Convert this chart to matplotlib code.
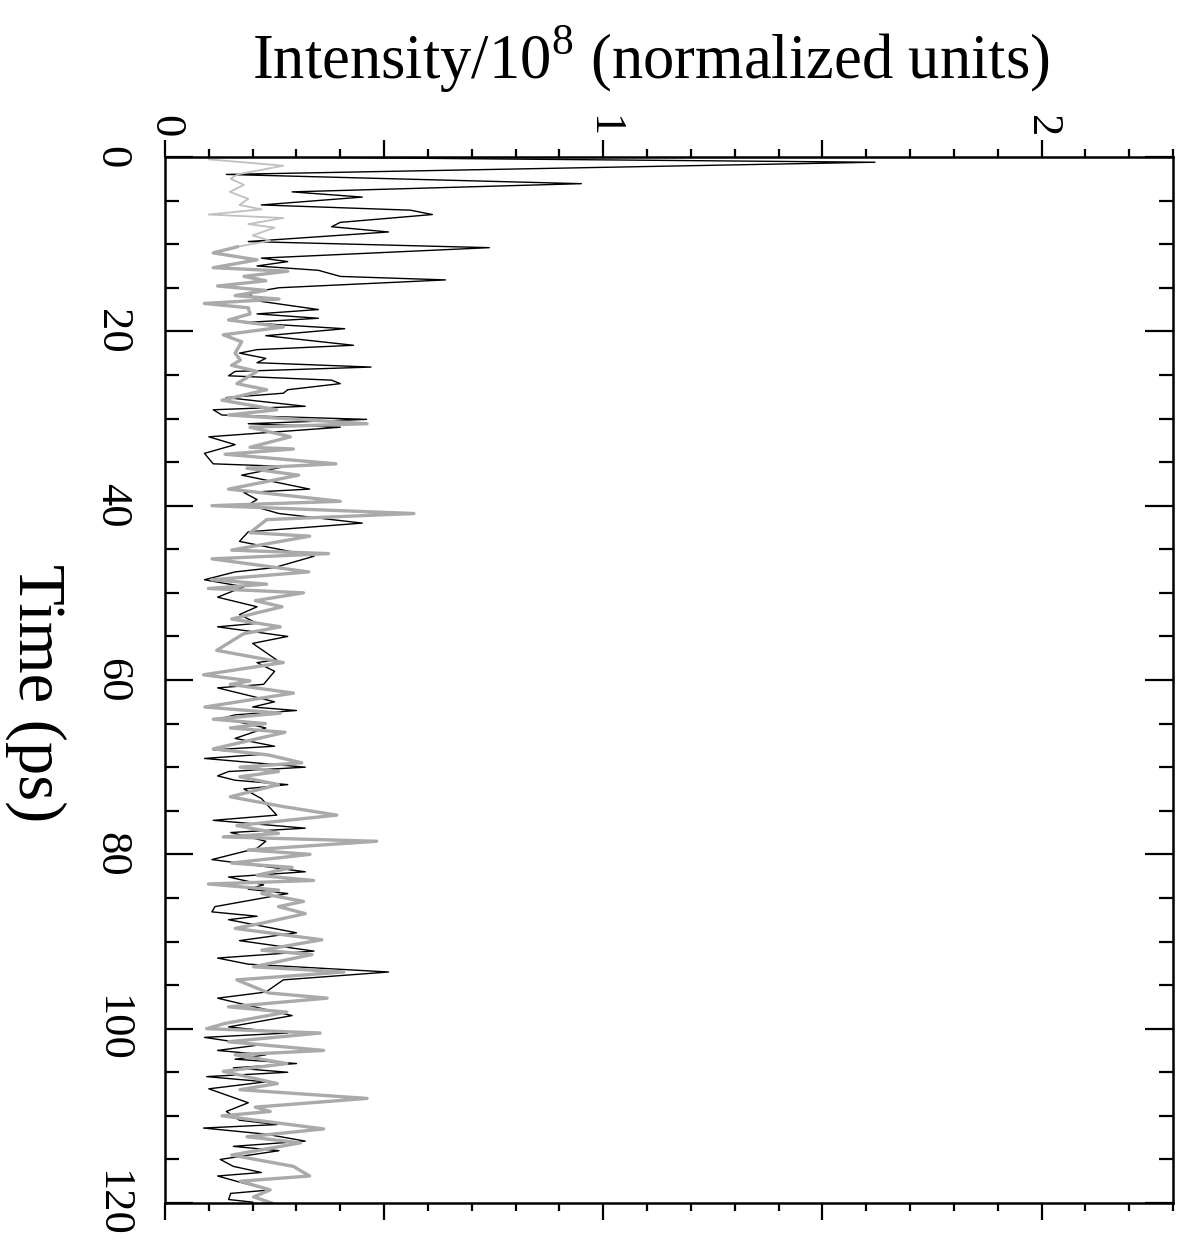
import matplotlib
matplotlib.use('Agg')
import matplotlib.pyplot as plt
from matplotlib.ticker import MultipleLocator, FuncFormatter

plt.rcParams['font.family'] = ['Liberation Serif', 'DejaVu Serif']
plt.rcParams['mathtext.fontset'] = 'custom'
plt.rcParams['mathtext.rm'] = 'Liberation Serif'

# black trace (time in ps, intensity / 1e8)
black_t = [0.0, 0.6, 2.0, 3.06, 4.0, 4.6, 5.5, 6.1, 6.6, 7.5, 8.0, 8.6, 9.7, 10.4, 11.6, 12.0,
           12.5, 13.0, 13.7, 14.1, 15.0, 15.6, 16.5, 17.5, 18.0, 18.5, 19.0, 19.7, 20.5, 21.6,
           22.1, 22.5, 23.1, 23.6, 24.1, 24.6, 25.1, 25.6, 26.0, 26.7, 27.1, 27.6, 28.6, 29.0,
           29.6, 30.1, 30.6, 31.0, 32.1, 33.0, 34.0, 35.2, 35.5, 36.5, 38.1, 38.5, 39.3, 39.9, 40.9,
           42.0, 43.0, 44.1, 45.8, 47.1, 47.6, 48.5, 49.3, 50.5, 51.6, 52.5, 53.5, 53.9, 55.0,
           55.8, 57.7, 58.0, 59.0, 60.5, 60.9, 62.5, 63.1, 63.5, 64.0, 64.4, 65.5, 66.7, 67.6,
           68.0, 68.5, 69.0, 70.0, 70.5, 71.0, 71.5, 72.0, 72.5, 73.6, 75.5, 76.1, 77.0, 77.5,
           78.5, 79.3, 80.6, 82.0, 82.6, 83.5, 84.0, 84.5, 86.0, 86.6, 87.1, 87.5, 89.0, 89.9,
           91.1, 91.9, 92.6, 93.5, 94.4, 95.8, 96.5, 97.1, 98.5, 99.8, 100.5, 101.0, 101.9,
           102.5, 103.0, 103.5, 104.0, 104.5, 105.0, 105.5, 106.1, 106.9, 108.5, 109.5, 110.5,
           111.0, 111.4, 112.1, 112.9, 113.5, 114.0, 115.0, 115.8, 116.5, 116.9, 117.6, 118.5,
           118.9, 119.6, 119.9]
black_i = [0.25, 1.62, 0.14, 0.95, 0.29, 0.45, 0.22, 0.56, 0.61, 0.40, 0.38, 0.51, 0.19, 0.74, 0.22, 0.28,
           0.21, 0.35, 0.40, 0.64, 0.26, 0.19, 0.21, 0.35, 0.21, 0.35, 0.18, 0.41, 0.23, 0.43,
           0.21, 0.17, 0.23, 0.21, 0.47, 0.16, 0.145, 0.38, 0.40, 0.28, 0.27, 0.14, 0.32, 0.11,
           0.13, 0.46, 0.19, 0.40, 0.10, 0.16, 0.09, 0.11, 0.275, 0.175, 0.33, 0.18, 0.21, 0.19, 0.26,
           0.45, 0.19, 0.17, 0.34, 0.25, 0.16, 0.09, 0.18, 0.12, 0.21, 0.17, 0.21, 0.12, 0.28,
           0.20, 0.255, 0.21, 0.25, 0.225, 0.12, 0.25, 0.20, 0.30, 0.16, 0.13, 0.23, 0.16, 0.25,
           0.11, 0.23, 0.09, 0.32, 0.145, 0.12, 0.16, 0.28, 0.18, 0.22, 0.255, 0.11, 0.32, 0.15,
           0.23, 0.21, 0.107, 0.32, 0.145, 0.225, 0.19, 0.28, 0.114, 0.107, 0.21, 0.145, 0.30, 0.17,
           0.34, 0.12, 0.19, 0.51, 0.27, 0.23, 0.12, 0.17, 0.29, 0.145, 0.28, 0.09, 0.21,
           0.12, 0.23, 0.16, 0.30, 0.156, 0.28, 0.095, 0.23, 0.10, 0.19, 0.14, 0.17,
           0.256, 0.088, 0.23, 0.32, 0.156, 0.26, 0.126, 0.156, 0.22, 0.12, 0.17, 0.24,
           0.15, 0.145, 0.20]

# grey trace, first ~10 ps drawn thin and light
grey_early_t = [0.27, 1.0, 2.0, 2.5, 3.2, 4.0, 4.8, 5.5, 6.0, 6.6, 7.0, 7.7, 8.1, 9.0, 9.6, 10.3]
grey_early_i = [0.10, 0.27, 0.165, 0.15, 0.18, 0.148, 0.19, 0.17, 0.22, 0.10, 0.27, 0.19, 0.25, 0.20, 0.24, 0.165]

grey_t = [10.3, 11.0, 11.8, 12.7, 13.1, 13.7, 14.2, 14.8, 15.3, 15.9, 16.3, 16.8, 17.3, 18.0, 18.7,
          19.5, 20.4, 21.2, 22.5, 23.3, 23.9, 24.6, 26.0, 26.7, 27.9, 29.0, 29.6, 30.6, 31.0,
          32.1, 33.3, 33.5, 34.1, 35.2, 35.7, 36.5, 38.1, 39.5, 40.0, 40.9, 41.6, 43.1, 43.5,
          45.1, 45.5, 46.1, 47.6, 48.5, 49.0, 49.5, 50.0, 50.9, 51.6, 53.0, 53.9, 54.7, 56.6,
          58.0, 59.4, 60.1, 60.5, 61.5, 63.1, 63.8, 64.5, 65.0, 65.5, 66.0, 67.9, 68.6, 69.5,
          70.0, 70.5, 71.1, 72.0, 73.4, 74.5, 75.5, 76.7, 77.6, 78.0, 78.5, 79.5, 80.0, 81.0,
          81.5, 82.4, 83.0, 83.4, 84.1, 84.5, 85.4, 86.0, 86.8, 87.9, 88.5, 89.8, 91.0, 91.5,
          92.9, 93.5, 94.4, 95.9, 96.5, 97.5, 98.1, 99.4, 100.0, 100.5, 101.5, 102.5, 103.0,
          104.0, 104.9, 106.3, 107.0, 108.0, 109.0, 109.5, 110.0, 111.5, 112.4, 113.1, 114.5,
          115.8, 116.9, 117.5, 118.5, 119.3, 120.0]
grey_i = [0.165, 0.11, 0.21, 0.11, 0.28, 0.18, 0.23, 0.12, 0.23, 0.16, 0.26, 0.09, 0.19, 0.194, 0.145,
          0.27, 0.133, 0.175, 0.16, 0.172, 0.152, 0.21, 0.164, 0.232, 0.13, 0.255, 0.145, 0.461, 0.194,
          0.286, 0.194, 0.293, 0.137, 0.39, 0.187, 0.305, 0.145, 0.40, 0.107, 0.568, 0.232, 0.194, 0.33,
          0.152, 0.373, 0.107, 0.328, 0.107, 0.232, 0.099, 0.316, 0.206, 0.267, 0.152, 0.263, 0.179, 0.118,
          0.27, 0.088, 0.194, 0.149, 0.293, 0.091, 0.263, 0.11, 0.229, 0.149, 0.274, 0.11, 0.236, 0.312,
          0.171, 0.259, 0.171, 0.259, 0.149, 0.267, 0.392, 0.164, 0.259, 0.133, 0.483, 0.19, 0.331, 0.152,
          0.29, 0.21, 0.339, 0.099, 0.259, 0.221, 0.316, 0.259, 0.32, 0.221, 0.16, 0.358, 0.221, 0.335,
          0.202, 0.408, 0.164, 0.236, 0.37, 0.145, 0.278, 0.137, 0.095, 0.354, 0.145, 0.362, 0.16,
          0.278, 0.133, 0.256, 0.171, 0.461, 0.206, 0.24, 0.13, 0.362, 0.187, 0.309, 0.152,
          0.293, 0.33, 0.172, 0.24, 0.202, 0.244]

fig = plt.figure(figsize=(11.85, 12.53), dpi=100)
ax = fig.add_axes([165/1185, 1-1203/1253, 1008/1185, 1046/1253])

ax.plot(black_i, black_t, color='black', lw=1.0)
ax.plot(grey_early_i, grey_early_t, color='#c0c0c0', lw=1.3)
ax.plot(grey_i, grey_t, color='#aaaaaa', lw=2.4)

ax.set_xlim(0, 2.3)
ax.set_ylim(120, 0)

ax.xaxis.tick_top()
ax.xaxis.set_label_position('top')
ax.xaxis.set_major_locator(MultipleLocator(0.5))
ax.xaxis.set_minor_locator(MultipleLocator(0.1))
ax.xaxis.set_major_formatter(FuncFormatter(lambda v, p: '%d' % round(v) if abs(v - round(v)) < 1e-6 else ''))
ax.yaxis.set_major_locator(MultipleLocator(20))
ax.yaxis.set_minor_locator(MultipleLocator(5))

ax.tick_params(axis='x', which='both', top=True, bottom=True, direction='out', width=1.6,
               labelsize=32, labelrotation=-90, pad=2)
ax.tick_params(axis='x', which='major', length=12)
ax.tick_params(axis='x', which='minor', length=6)
ax.tick_params(axis='y', which='both', left=True, right=True, direction='in', width=1.6,
               labelsize=32, labelrotation=-90, pad=24)
ax.tick_params(axis='y', which='major', length=20)
ax.tick_params(axis='y', which='minor', length=10)
for lbl in ax.get_yticklabels():
    lbl.set_verticalalignment('center')
for lbl in ax.get_xticklabels():
    lbl.set_horizontalalignment('center')

for s in ax.spines.values():
    s.set_linewidth(1.8)

ax.set_xlabel(r'Intensity/10$^{8}$ (normalized units)', fontsize=45, labelpad=26)
ax.xaxis.label.set_x(0.482)
ax.set_ylabel('Time (ps)', fontsize=48, rotation=-90, labelpad=40, va='center')
ax.yaxis.label.set_y(0.487)

fig.savefig('out.png', dpi=100)
